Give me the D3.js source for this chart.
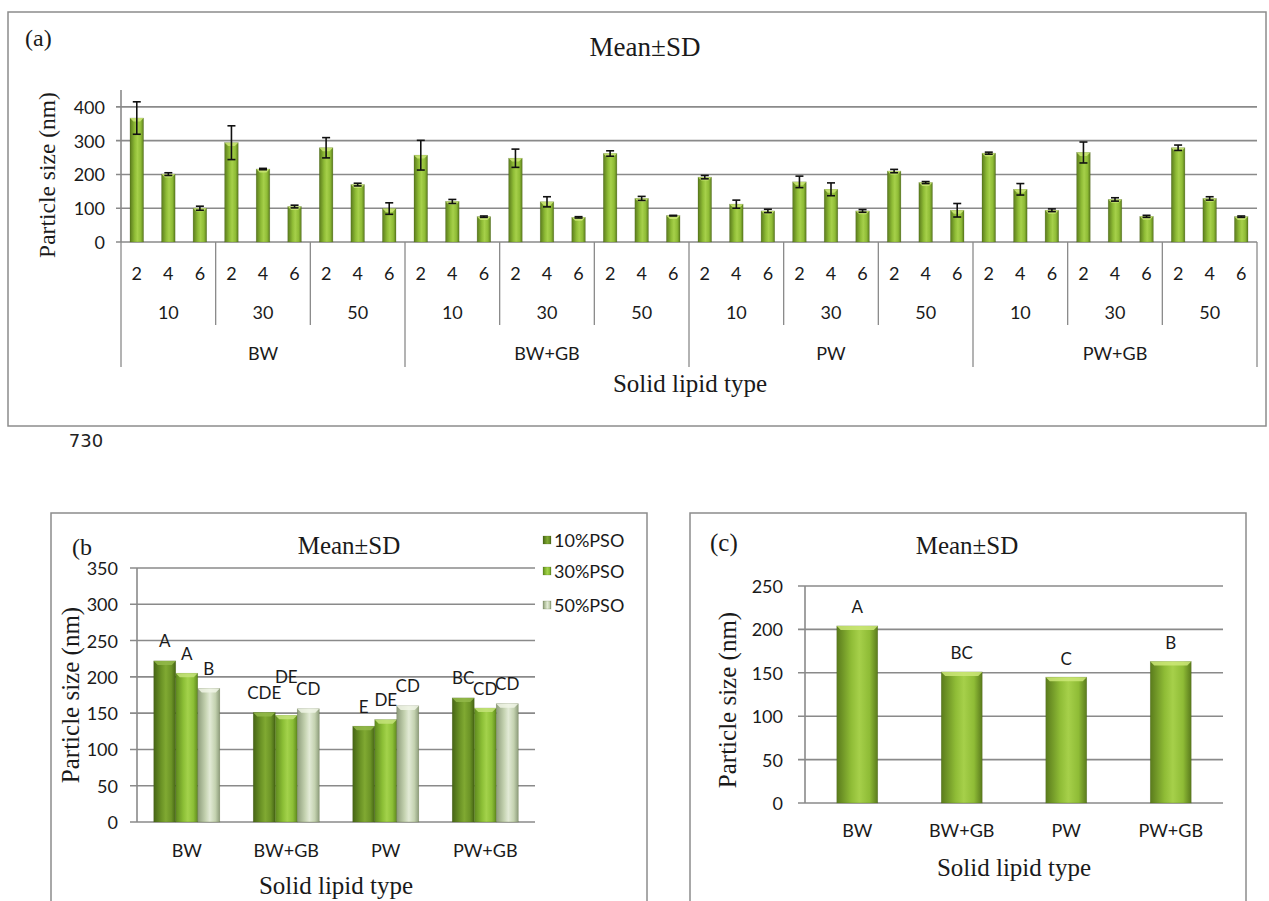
<!DOCTYPE html>
<html><head><meta charset="utf-8">
<script src="https://cdn.jsdelivr.net/npm/d3@7"></script>
<style>body{margin:0;background:#fff}svg{display:block}</style>
</head><body>
<script>
// ---------- DATA ----------
const lipidTypes = ["BW", "BW+GB", "PW", "PW+GB"];
const psoLevels = ["10", "30", "50"];
const surfactantLevels = ["2", "4", "6"];
// panel (a): order lipid -> PSO -> surfactant
const sizeMeans = [367, 201, 100, 294, 216, 105, 279, 170, 99,
                   257, 120, 75, 248, 119, 73, 262, 129, 78,
                   192, 112, 92, 178, 156, 92, 210, 176, 94,
                   263, 156, 94, 265, 126, 76, 279, 129, 75];
const sizeSD = [48, 4, 6, 50, 2, 4, 30, 4, 17,
                44, 6, 2, 27, 15, 2, 8, 6, 1,
                5, 12, 5, 17, 19, 4, 5, 3, 20,
                3, 17, 4, 31, 5, 3, 8, 5, 2];
const yTicksA = [0, 100, 200, 300, 400];
// panel (b)
const seriesB = ["10%PSO", "30%PSO", "50%PSO"];
const pso10 = [222, 151, 132, 171];
const pso30 = [205, 147, 141, 157];
const pso50 = [184, 156, 160, 163];
const letters10 = ["A", "CDE", "E", "BC"];
const letters30 = ["A", "DE", "DE", "CD"];
const letters50 = ["B", "CD", "CD", "CD"];
const yTicksB = [0, 50, 100, 150, 200, 250, 300, 350];
// panel (c)
const lipidMeans = [204, 151, 145, 163];
const lettersC = ["A", "BC", "C", "B"];
const yTicksC = [0, 50, 100, 150, 200, 250];

// ---------- SETUP ----------
const W = 1269, H = 901;
const svg = d3.select("body").append("svg").attr("width", W).attr("height", H);
const SANS = "Lato, 'Open Sans', sans-serif";
const SERIF = "'Liberation Serif', 'Times New Roman', serif";
const GRID = "#8a8a8a";
const defs = svg.append("defs");
function grad(id, edge, mid, light) {
  const g = defs.append("linearGradient").attr("id", id).attr("x1", 0).attr("x2", 1).attr("y1", 0).attr("y2", 0);
  g.append("stop").attr("offset", "0%").attr("stop-color", edge);
  g.append("stop").attr("offset", "35%").attr("stop-color", mid);
  g.append("stop").attr("offset", "55%").attr("stop-color", light);
  g.append("stop").attr("offset", "80%").attr("stop-color", mid);
  g.append("stop").attr("offset", "100%").attr("stop-color", edge);
}
grad("gMain", "#5a7b1c", "#8fbc36", "#a6d04a");
grad("g10", "#466515", "#6c9426", "#80a932");
grad("g30", "#5f8a1e", "#8cbf36", "#a3d24b");
grad("g50", "#8e9d7c", "#c4d2b0", "#e2ead6");

function bevelBars(g, data, xf, wf, yf, y0, fill, capColor) {
  const gg = g.append("g");
  gg.selectAll("rect").data(data).join("rect")
    .attr("x", xf).attr("width", wf)
    .attr("y", d => yf(d)).attr("height", d => y0 - yf(d))
    .attr("fill", fill).attr("stroke", "rgba(60,80,20,0.35)").attr("stroke-width", 0.6);
  gg.selectAll("path.cap").data(data).join("path").attr("class", "cap")
    .attr("d", (d, i) => {
      const x = xf(d, i), w = wf(d, i), y = yf(d);
      const inset = Math.min(4, w * 0.25);
      return `M${x},${y}L${x + w},${y}L${x + w - inset},${y + inset}L${x + inset},${y + inset}Z`;
    })
    .attr("fill", capColor).attr("opacity", 0.85);
}

function box(x, y, w, h) {
  svg.append("rect").attr("x", x).attr("y", y).attr("width", w).attr("height", h)
    .attr("fill", "none").attr("stroke", "#8c8c8c").attr("stroke-width", 1.5);
}
function text(t, x, y, size, family, anchor = "middle", rot = 0, color = "#1a1a1a") {
  const el = svg.append("text").text(t).attr("font-size", size).attr("font-family", family)
    .attr("text-anchor", anchor).attr("dominant-baseline", "central").attr("fill", color);
  if (rot) el.attr("transform", `translate(${x},${y}) rotate(${rot})`);
  else el.attr("x", x).attr("y", y);
  return el;
}
function yGrid(scale, ticks, x0, x1, tickLen, labelRight, fontSize, axisTop) {
  ticks.forEach(t => {
    svg.append("line").attr("x1", x0 - tickLen).attr("x2", x1).attr("y1", scale(t)).attr("y2", scale(t))
      .attr("stroke", GRID).attr("stroke-width", 1.6);
    text(String(t), labelRight, scale(t), fontSize, SANS, "end");
  });
  svg.append("line").attr("x1", x0).attr("x2", x0).attr("y1", scale(axisTop)).attr("y2", scale(0))
    .attr("stroke", GRID).attr("stroke-width", 1.6);
}

// ---------- PANEL (a) ----------
box(8, 12, 1258, 414);
const nA = sizeMeans.length;
const xA = d3.scaleBand().domain(d3.range(nA)).range([121, 1257]).paddingInner(0.57).paddingOuter(0.285);
const yA = d3.scaleLinear().domain([0, 450]).range([242, 90]);
yGrid(yA, yTicksA, 121, 1257, 5, 105, 18, 450);
const gA = svg.append("g");
bevelBars(gA, sizeMeans, (d, i) => xA(i), () => xA.bandwidth(), d => yA(d), yA(0), "url(#gMain)", "#cde878");
// error bars
const eb = svg.append("g").attr("stroke", "#111").attr("stroke-width", 1.6);
sizeMeans.forEach((m, i) => {
  const cx = xA(i) + xA.bandwidth() / 2, s = sizeSD[i];
  eb.append("line").attr("x1", cx).attr("x2", cx).attr("y1", yA(m + s)).attr("y2", yA(m - s));
  eb.append("line").attr("x1", cx - 4).attr("x2", cx + 4).attr("y1", yA(m + s)).attr("y2", yA(m + s));
  eb.append("line").attr("x1", cx - 4).attr("x2", cx + 4).attr("y1", yA(m - s)).attr("y2", yA(m - s));
});
// hierarchical category axis
const stepA = xA.step();
const x0A = 121;
for (let k = 0; k <= nA / 3; k++) {
  const x = x0A + k * 3 * stepA;
  svg.append("line").attr("x1", x).attr("x2", x).attr("y1", yA(0)).attr("y2", k % 3 === 0 ? 367 : 325)
    .attr("stroke", GRID).attr("stroke-width", 1.3);
}
sizeMeans.forEach((m, i) => text(surfactantLevels[i % 3], xA(i) + xA.bandwidth() / 2, 273, 18, SANS));
for (let g = 0; g < nA / 3; g++) text(psoLevels[g % 3], x0A + (g * 3 + 1.5) * stepA, 312, 18, SANS);
lipidTypes.forEach((l, j) => text(l, x0A + (j * 9 + 4.5) * stepA, 353, 18, SANS));
text("Solid lipid type", 690, 383, 25, SERIF);
text("Particle size (nm)", 47, 175, 23.5, SERIF, "middle", -90);
text("Mean±SD", 645, 47, 27, SERIF);
text("(a)", 25, 38, 24, SERIF, "start");
text("730", 86, 440, 18, "'DejaVu Sans', sans-serif", "middle", 0, "#222");

// ---------- PANEL (b) ----------
box(51, 513, 596, 400);
const xB = d3.scaleBand().domain(lipidTypes).range([137, 535]);
const xB1 = d3.scaleBand().domain(seriesB).range([0, xB.bandwidth()]).paddingInner(0).paddingOuter(0.76);
const yB = d3.scaleLinear().domain([0, 350]).range([822, 568]);
yGrid(yB, yTicksB, 137, 535, 7, 118, 18, 350);
const seriesVals = [pso10, pso30, pso50];
const seriesLetters = [letters10, letters30, letters50];
const seriesFill = ["url(#g10)", "url(#g30)", "url(#g50)"];
const seriesCap = ["#93b84a", "#c4e37a", "#f0f5e6"];
seriesB.forEach((s, si) => {
  const g = svg.append("g");
  bevelBars(g, seriesVals[si], (d, i) => xB(lipidTypes[i]) + xB1(s), () => xB1.bandwidth(),
    d => yB(d), yB(0), seriesFill[si], seriesCap[si]);
});
// significance letters, lifted one line when they would clearly collide with the previous one
lipidTypes.forEach((l, i) => {
  let prev = null;
  seriesB.forEach((s, si) => {
    const cx = xB(l) + xB1(s) + xB1.bandwidth() / 2;
    let cy = yB(seriesVals[si][i]) - 20;
    const el = text(seriesLetters[si][i], cx, cy, 17, SANS);
    const w = el.node().getComputedTextLength();
    if (prev) {
      const overlapX = (prev.cx + prev.w / 2) - (cx - w / 2);
      if (overlapX > 4 && Math.abs(prev.cy - cy) < 16) { cy = prev.cy - 16; el.attr("y", cy); }
    }
    prev = { cx, cy, w };
  });
});
lipidTypes.forEach(l => text(l, xB(l) + xB.bandwidth() / 2, 850, 18, SANS));
text("Solid lipid type", 336, 885, 25, SERIF);
text("Particle size (nm)", 70, 695, 25, SERIF, "middle", -90);
text("Mean±SD", 349, 545, 25, SERIF);
text("(b", 72, 547, 24, SERIF, "start");
// legend
const legY = [540, 571, 605];
seriesB.forEach((s, si) => {
  svg.append("rect").attr("x", 543).attr("y", legY[si] - 4).attr("width", 8).attr("height", 8)
    .attr("fill", seriesFill[si]).attr("stroke", "rgba(60,80,20,0.4)").attr("stroke-width", 0.5);
  text(s, 554, legY[si], 18, SANS, "start");
});

// ---------- PANEL (c) ----------
box(690, 513, 556, 400);
const xC = d3.scaleBand().domain(lipidTypes).range([805, 1223]).paddingInner(0.608).paddingOuter(0.304);
const yC = d3.scaleLinear().domain([0, 250]).range([803, 586]);
yGrid(yC, yTicksC, 805, 1223, 7, 783, 18, 250);
const gC = svg.append("g");
bevelBars(gC, lipidMeans, (d, i) => xC(lipidTypes[i]), () => xC.bandwidth(), d => yC(d), yC(0), "url(#gMain)", "#cde878");
lipidMeans.forEach((v, i) => text(lettersC[i], xC(lipidTypes[i]) + xC.bandwidth() / 2, yC(v) - 19, 17, SANS));
lipidTypes.forEach(l => text(l, xC(l) + xC.bandwidth() / 2, 830, 18, SANS));
text("Solid lipid type", 1014, 867, 25, SERIF);
text("Particle size (nm)", 727, 700, 25, SERIF, "middle", -90);
text("Mean±SD", 967, 545, 25, SERIF);
text("(c)", 710, 542, 25, SERIF, "start");
</script>
</body></html>
